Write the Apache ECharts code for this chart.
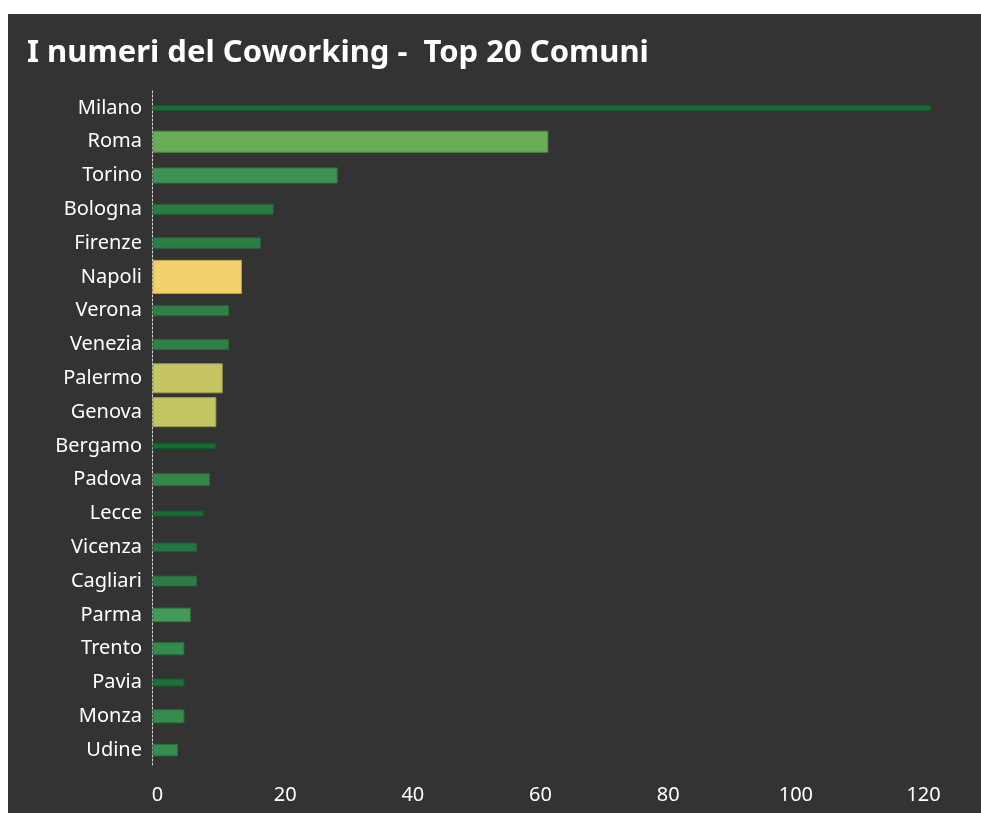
<!DOCTYPE html>
<html>
<head>
<meta charset="utf-8">
<title>I numeri del Coworking - Top 20 Comuni</title>
<script src="https://cdn.jsdelivr.net/npm/echarts@6/dist/echarts.min.js"></script>
<style>
  html, body { margin: 0; padding: 0; background: #ffffff; }
  #frame { position: absolute; left: 8px; top: 14px; width: 973px; height: 799px; background: #333333; }
  #chart { position: absolute; left: 0; top: 0; width: 981px; height: 813px; }
</style>
</head>
<body>
<div id="frame"></div>
<div id="chart"></div>
<script>
// Comuni, ordered from the largest number of coworking spaces down
const comuni = ['Milano', 'Roma', 'Torino', 'Bologna', 'Firenze', 'Napoli', 'Verona', 'Venezia',
  'Palermo', 'Genova', 'Bergamo', 'Padova', 'Lecce', 'Vicenza', 'Cagliari', 'Parma',
  'Trento', 'Pavia', 'Monza', 'Udine'];

// Number of coworking spaces per comune
const spazi = [122, 62, 29, 19, 17, 14, 12, 12, 11, 10, 10, 9, 8, 7, 7, 6, 5, 5, 5, 4];

// Axis tick values
const xTicks = [0, 20, 40, 60, 80, 100, 120];

// Per-bar appearance: thickness in pixels and fill colour
const barThickness = [5, 21, 15, 10, 10.5, 33, 10, 10, 29, 29, 5.5, 12, 5, 8.5, 10, 13.5, 12, 7, 13, 11.5];
const barColors = ['#196b36', '#6aab57', '#3e9152', '#2b7b45', '#2d7d46', '#f2d16b', '#2f8048', '#2f8048',
  '#c5c663', '#c3c562', '#176b34', '#348549', '#1a6b36', '#237541', '#2d7c47', '#43995a',
  '#358a4d', '#1f6f3a', '#358a4d', '#388c50'];

function darker(hex, f) {
  const n = parseInt(hex.slice(1), 16);
  const r = Math.round(((n >> 16) & 255) * f);
  const g = Math.round(((n >> 8) & 255) * f);
  const b = Math.round((n & 255) * f);
  return 'rgb(' + r + ',' + g + ',' + b + ')';
}

const chart = echarts.init(document.getElementById('chart'), null, { renderer: 'canvas' });

const fontFamily = '"Noto Sans", "Open Sans", sans-serif';

chart.setOption({
  backgroundColor: 'transparent',
  animation: false,
  title: {
    text: 'I numeri del Coworking -  Top 20 Comuni',
    left: 22,
    top: 33,
    textStyle: {
      color: '#ffffff',
      fontSize: 31,
      fontWeight: 'bold',
      fontFamily: fontFamily
    }
  },
  grid: { left: 152, right: 31, top: 91, bottom: 46, containLabel: false },
  xAxis: {
    type: 'value',
    min: 0,
    max: 125,
    interval: 20,
    axisLine: { show: false },
    axisTick: { show: false },
    splitLine: { show: false },
    axisLabel: {
      color: '#ffffff',
      fontSize: 20,
      fontFamily: fontFamily,
      margin: 18,
      padding: [0, 0, 0, 11],
      formatter: function (v) { return xTicks.indexOf(v) >= 0 ? String(v) : ''; }
    }
  },
  yAxis: {
    type: 'category',
    data: comuni,
    inverse: true,
    axisLine: { show: true, lineStyle: { color: '#d8d8d8', type: [2, 2], width: 1 } },
    axisTick: { show: false },
    splitLine: { show: false },
    axisLabel: {
      color: '#ffffff',
      fontSize: 20,
      fontFamily: fontFamily,
      margin: 10,
      padding: [6, 0, 0, 0]
    }
  },
  series: [{
    type: 'custom',
    data: spazi.map(function (v, i) { return [v, i]; }),
    encode: { x: 0, y: 1 },
    renderItem: function (params, api) {
      const idx = api.value(1);
      const end = api.coord([api.value(0), idx]);
      const start = api.coord([0, idx]);
      const h = barThickness[idx];
      const color = barColors[idx];
      return {
        type: 'rect',
        shape: { x: start[0] + 1, y: end[1] - h / 2, width: end[0] - start[0] - 1, height: h },
        style: { fill: color, stroke: darker(color, 0.8), lineWidth: 1 }
      };
    }
  }]
});
</script>
</body>
</html>
